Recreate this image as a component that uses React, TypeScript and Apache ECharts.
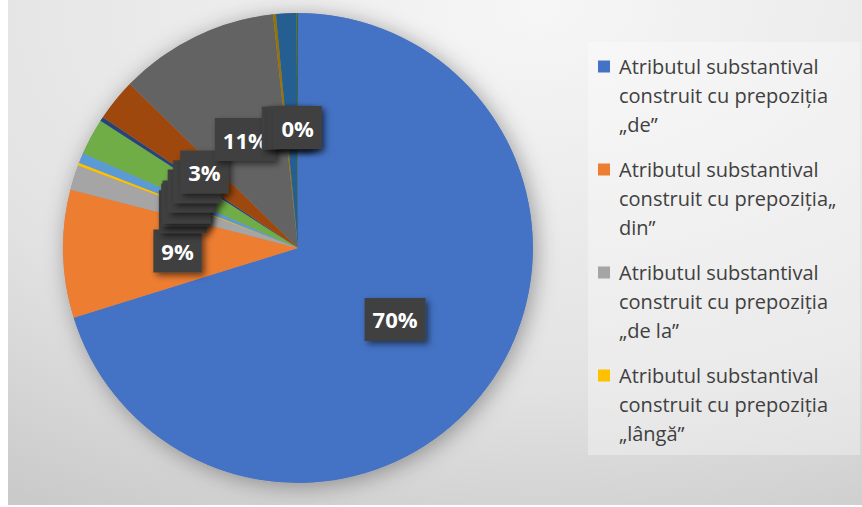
import React, { useEffect, useRef } from "react";
import * as echarts from "echarts";

const categories = [
  "Atributul substantival construit cu prepoziția „de”",
  "Atributul substantival construit cu prepoziția„ din”",
  "Atributul substantival construit cu prepoziția „de la”",
  "Atributul substantival construit cu prepoziția „lângă”",
  "Categoria 5",
  "Categoria 6",
  "Categoria 7",
  "Categoria 8",
  "Categoria 9",
  "Categoria 10",
  "Categoria 11",
  "Categoria 12",
];
const values = [70.2, 8.8, 1.7, 0.2, 0.7, 2.5, 0.3, 2.9, 11.0, 0.2, 1.4, 0.1];
const colors = [
  "#4472C4", "#ED7D31", "#A5A5A5", "#FFC000", "#5B9BD5", "#70AD47",
  "#264478", "#9E480E", "#636363", "#997300", "#255E91", "#43682B",
];
const legendLines = [
  ["Atributul substantival", "construit cu prepoziția", "„de”"],
  ["Atributul substantival", "construit cu prepoziția„", "din”"],
  ["Atributul substantival", "construit cu prepoziția", "„de la”"],
  ["Atributul substantival", "construit cu prepoziția", "„lângă”"],
];

const FONT = "Open Sans";

export default function App() {
  const ref = useRef<HTMLDivElement>(null);
  useEffect(() => {
    if (!ref.current) return;
    const chart = echarts.init(ref.current, null, { renderer: "svg" });
    const rich: any = {
      gap: { width: 9 },
      ind: { width: 21 },
    };
    legendLines.forEach((_, i) => {
      rich["sq" + i] = { width: 12, height: 12, backgroundColor: colors[i] };
    });
    const option: any = {
      animation: false,
      graphic: [
        {
          type: "rect",
          z: -10,
          silent: true,
          shape: { x: 8, y: 0, width: 854, height: 505 },
          style: {
            fill: new echarts.graphic.RadialGradient(0.62, 0.02, 1.35, [
              { offset: 0, color: "#f6f6f6" },
              { offset: 0.55, color: "#e2e2e2" },
              { offset: 1, color: "#bdbdbd" },
            ]),
          },
        },
        {
          type: "rect",
          z: -9,
          silent: true,
          shape: { x: 588, y: 42, width: 272, height: 413 },
          style: { fill: "rgba(255,255,255,0.32)" },
        },
      ],
      legend: {
        orient: "vertical",
        left: 593,
        top: 52,
        padding: 0,
        itemWidth: 0,
        itemHeight: 87,
        itemGap: 16,
        icon: "rect",
        selectedMode: false,
        data: categories.slice(0, 4),
        formatter: (name: string) => {
          const i = categories.indexOf(name);
          const l = legendLines[i];
          return `{sq${i}|}{gap|}${l[0]}\n{ind|}${l[1]}\n{ind|}${l[2]}`;
        },
        textStyle: {
          fontFamily: FONT,
          fontSize: 20,
          lineHeight: 29,
          color: "#404040",
          rich,
        },
      },
      series: [
        {
          type: "pie",
          name: "shadow",
          silent: true,
          center: [298, 248],
          radius: 235,
          z: 1,
          label: { show: false },
          labelLine: { show: false },
          emphasis: { disabled: true },
          itemStyle: {
            color: "#999",
            borderWidth: 0,
            shadowBlur: 22,
            shadowColor: "rgba(0,0,0,0.35)",
            shadowOffsetX: 3,
            shadowOffsetY: 3,
          },
          data: [{ value: 1, name: "__shadow" }],
        },
        {
          type: "pie",
          name: "Atribute",
          center: [298, 248],
          radius: 235,
          startAngle: 90,
          clockwise: true,
          z: 2,
          avoidLabelOverlap: false,
          minShowLabelAngle: 0,
          labelLayout: { hideOverlap: false, moveOverlap: null },
          itemStyle: { borderWidth: 0 },
          emphasis: { disabled: true },
          labelLine: { show: false },
          label: {
            show: true,
            position: "inside",
            formatter: (p: any) => `${Math.round(p.percent)}%`,
            color: "#ffffff",
            fontFamily: FONT,
            fontWeight: "bold",
            fontSize: 22,
            lineHeight: 27,
            padding: [8, 8],
            backgroundColor: "#414141",
            shadowColor: "rgba(0,0,0,0.55)",
            shadowBlur: 6,
            shadowOffsetX: 3,
            shadowOffsetY: 3,
          },
          data: categories.map((name, i) => ({
            name,
            value: values[i],
            itemStyle: { color: colors[i] },
          })),
        },
      ],
    };
    chart.setOption(option);
    return () => chart.dispose();
  }, []);
  return (
    <div
      ref={ref}
      style={{ position: "fixed", left: 0, top: 0, width: 862, height: 507, background: "#fff" }}
    />
  );
}
